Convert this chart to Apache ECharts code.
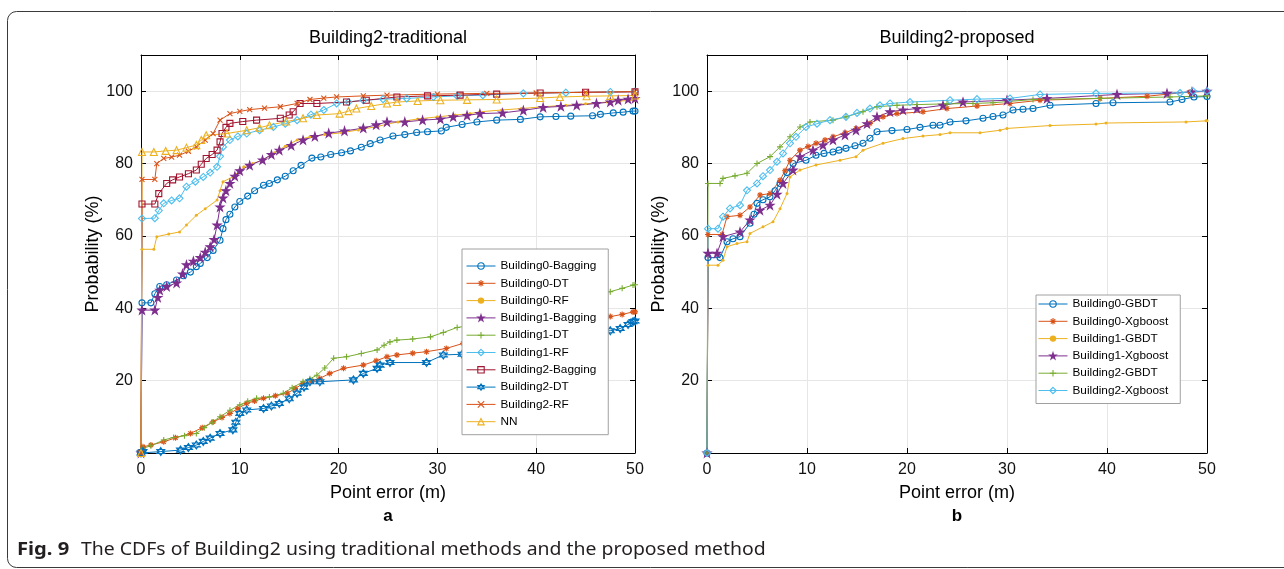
<!DOCTYPE html>
<html>
<head>
<meta charset="utf-8">
<script src="https://cdn.jsdelivr.net/npm/echarts@6/dist/echarts.min.js"></script>
<style>
  html, body { margin: 0; padding: 0; background: #fff; }
  #chart { width: 1284px; height: 569px; }
</style>
</head>
<body>
<div id="chart"></div>
<script>
// ---- Axis ticks ----
const xTicks = [0, 10, 20, 30, 40, 50];
const yTicks = [20, 40, 60, 80, 100];

// ---- (a) Building2-traditional : [point error (m), probability (%)] ----
const b0Bagging = [[0,0],[0.1,41.5],[1,41.5],[1.4,44],[1.9,46],[2.6,46.5],[3.6,47.8],[4.3,49],[5,50],[5.6,51.5],[6,52.4],[6.7,54],[7.3,56],[8,58.8],[8.3,62],[8.6,64.5],[9,66],[9.5,68],[10,69.5],[10.8,71],[11.5,72.5],[12.4,74],[13,74.5],[13.8,75.5],[14.6,76.5],[15.4,78],[16.2,79.5],[17.3,81.5],[18.2,81.8],[19.2,82.5],[20.3,83],[21.2,83.5],[22.3,84.5],[23.2,85.5],[24.2,86.5],[25.5,87.6],[26.7,88],[27.9,88.6],[29,88.8],[30.4,89],[30.9,90],[32.5,90.8],[34,91.5],[36,92],[38.4,92.2],[40.4,92.9],[42,93],[43.5,93.1],[45.7,93.2],[46.5,93.6],[47.8,94],[48.8,94.2],[49.8,94.5],[50,94.5]];
const b0DT = [[0,0],[0.2,1.7],[1,2.2],[2.3,3.1],[3.5,4.2],[5,5.4],[6.2,7],[7.3,8.6],[8.2,9.8],[9,10.9],[9.8,12.3],[10.7,13.7],[11.5,14.4],[12.4,15.1],[13.6,15.8],[14.8,16.5],[15.6,17.8],[16.4,19.2],[17.3,19.9],[18.1,20.6],[19.1,22],[20.5,23.4],[22.5,24.3],[23.8,25.5],[24.9,26.6],[25.9,27.1],[27.5,27.6],[28.9,28],[30.9,28.9],[32.6,30.3],[35,31.5],[38,33],[41,34.5],[44,35.8],[46.5,37],[47.5,37.7],[48.7,38.3],[49.8,39],[50,39]];
const b0RF = [[0,0],[0.1,56.3],[1.3,56.3],[1.6,59.8],[2.8,60.5],[3.9,61.1],[4.6,63],[5.6,65.7],[6.5,67.5],[7.7,69.9],[8,72.5],[8.3,75],[9.3,76.3],[10.4,79.1],[11.3,80],[12.4,81],[13.5,83],[14.6,84.8],[15.8,86.5],[17.1,87.4],[18.6,88],[20.3,88.5],[22,89.3],[24,90.3],[26,91.5],[28,92.3],[30,92.9],[31.8,93.4],[33.3,93.8],[34.3,94.3],[36.5,94.8],[38.5,95.2],[40.7,95.7],[43,96.1],[45,96.5],[47.2,97],[48.5,97.3],[50,97.5]];
const b1Bagging = [[0,0],[0.1,39.5],[1.4,39.5],[1.7,43],[1.9,45],[2.6,46],[3.6,47],[4.2,49.5],[4.6,52],[5.3,53],[6,54],[6.5,55.5],[7,57],[7.4,59],[7.7,63],[8,68],[8.3,70.5],[8.6,72.5],[9,74.5],[9.5,76.5],[10,78],[11,79.5],[12.3,81],[13.2,82.5],[14,83.7],[15.2,85],[16.4,86.5],[17.6,87.5],[19,88.4],[20.6,89],[22.5,89.8],[23.8,90.7],[24.9,91.5],[26.7,91.5],[28.5,92],[30.3,92.3],[31.6,92.9],[33,93.3],[34.3,93.8],[36.6,94],[38.7,94.7],[40.7,95.5],[42.5,95.8],[44.1,96.1],[46.1,96.6],[47.5,97],[48.3,97.5],[49.3,97.8],[50,98]];
const b1DT = [[0,0],[0.2,1.3],[1,2],[2.3,3.6],[3.3,4.3],[4.4,4.8],[5.6,5.4],[6.4,7],[7.2,8.5],[8,10],[9,11.8],[10,13.3],[10.8,14.3],[11.7,15.1],[13,15.5],[14.4,16.5],[15.3,18],[16.4,19.7],[17.1,20.5],[17.8,21.5],[18.6,23.5],[19.5,26.2],[20.8,26.6],[22.3,27.5],[23.9,28.5],[24.6,29.8],[25.2,30.7],[25.9,31.2],[27.5,31.5],[29.3,32.1],[30.6,33.3],[32,34.7],[33.5,35.3],[35,35.6],[37,37],[39.5,38.5],[42,40.5],[44.5,42.5],[46.5,44],[47.5,44.6],[48.7,45.5],[49.8,46.4],[50,46.5]];
const b1RF = [[0,0],[0.1,64.8],[1.4,64.9],[1.8,67],[2.3,69],[3.1,69.8],[3.9,70.4],[4.6,73.6],[5.5,75],[6.3,76.3],[7,77.5],[7.7,79.1],[8,82],[8.3,84.6],[9,86.5],[9.8,87.5],[10.7,88.3],[12,89.2],[13.4,90.1],[14.6,91],[15.8,92],[17.2,93.5],[18.5,94.8],[19.8,96.6],[21,97],[22.5,97.5],[24.5,97.8],[26.9,98],[29.6,98.4],[32,98.7],[34.6,98.9],[38.7,99.4],[43,99.6],[47.5,99.8],[50,99.9]];
const b2Bagging = [[0,0],[0.1,68.8],[1.4,68.8],[1.8,71.7],[2.6,74.5],[3.2,75.5],[3.9,76.3],[4.8,77.2],[5.6,78.2],[6.1,79.8],[6.6,81.4],[7.2,82.5],[7.7,83.7],[8,86],[8.2,88.3],[8.6,90],[9,91.1],[10.3,91.6],[11.7,92],[14.1,92.5],[15,93.4],[15.4,94.3],[16.1,96.6],[17.8,96.6],[20.8,97],[22.8,97.5],[25.9,98.4],[29,98.7],[32.3,98.9],[36,99.2],[40.4,99.5],[45,99.7],[50,99.8]];
const b2DT = [[0,0],[0.2,0.4],[2,0.4],[4,0.8],[4.8,1.5],[5.6,2.2],[6.3,3.2],[7,4.1],[8,5.4],[9.3,6.4],[9.6,8.5],[10,10.9],[10.7,11.9],[12.4,12.3],[13.2,13],[14,13.7],[15,15],[15.8,16.5],[16.5,18.2],[17.1,19.7],[18.1,19.7],[21.5,20.2],[22.5,22],[23.9,23.4],[24.2,24.3],[25.2,25],[28.9,25],[30.6,27.1],[32.5,27.3],[35,29],[38,30.5],[41,32],[44,33.2],[47.5,33.8],[48.5,34.4],[49.3,35.5],[49.8,36.3],[50,36.5]];
const b2RF = [[0,0],[0.1,75.6],[1.4,75.6],[1.6,80],[2.3,81.4],[3.1,81.8],[3.9,82.3],[4.8,83.4],[5.6,84.6],[6.5,86.5],[7.3,88.3],[8,92],[9,93.8],[10,94.4],[11,94.9],[12.5,95.3],[14.1,95.7],[15.8,96.6],[17.1,97.7],[18.5,98.1],[19.8,98.4],[22.5,98.7],[24.9,98.9],[30,99.2],[35,99.4],[40,99.5],[45,99.7],[50,99.9]];
const nn = [[0,0],[0.1,83.2],[1.3,83.2],[2.5,83.5],[3.6,83.7],[4.6,84.4],[5.6,85.1],[6.1,86.5],[6.6,87.8],[8.7,88.3],[10.7,89.2],[12,89.9],[13,90.6],[14.7,91.6],[16.4,92.5],[17.8,93.4],[20.1,93.8],[21,94.5],[21.8,95.2],[23.3,95.9],[24.9,96.6],[25.9,97],[28,97.3],[30.3,97.5],[33,97.6],[36,97.7],[40.4,98.1],[42.4,98.4],[45.1,98.6],[47.5,98.7],[50,98.8]];

// ---- (b) Building2-proposed ----
const b0GBDT = [[0,0],[0.1,54],[1.3,54],[2,58.4],[2.6,59.2],[3.3,59.8],[4.3,63.5],[4.7,66],[5,69],[5.6,70],[6.3,70.8],[6.8,72.5],[7.3,74.5],[8,77.5],[8.6,80],[9.9,80.9],[10.9,82.3],[11.7,82.8],[12.6,83.2],[13.2,83.7],[13.9,84.2],[14.8,84.9],[15.6,85.6],[16.3,87],[17,88.8],[18.5,89.1],[20,89.4],[21.3,90],[22.6,90.6],[23.3,90.6],[24.3,91.5],[25.9,91.8],[27.6,92.5],[28.6,93],[29.6,93.4],[30.6,94.8],[31.6,95],[32.6,95.2],[34.3,96.1],[38.9,96.6],[40.6,96.8],[46.3,97],[47.5,97.7],[48.7,98.4],[50,98.5]];
const b0Xgboost = [[0,0],[0.1,60.4],[1.5,60.4],[2,65.3],[3.3,65.7],[4.3,68],[5.3,71.3],[6.3,71.7],[7.3,75.4],[7.8,78],[8.3,80.9],[9.3,83.7],[10.1,84.7],[10.9,85.6],[11.8,86.5],[12.6,87.4],[13.8,88.5],[14.9,89.7],[16.3,91.1],[17.6,92.9],[19,93.8],[21.6,94.3],[24,95.2],[27,95.9],[30.3,96.6],[33.3,97.5],[39.3,98],[44,98.6],[48.3,99.8],[50,99.9]];
const b1GBDT = [[0,0],[0.1,51.9],[1.1,51.9],[1.6,53.3],[2,57],[3,57.9],[4,58.4],[4.3,60.7],[5.6,62.5],[6.6,63.9],[7.3,67.5],[8,71.7],[8.3,76.3],[9.3,78.2],[10.9,79.6],[13.3,80.9],[14.9,81.9],[15.6,83.7],[17.6,85.6],[19.6,86.9],[21.6,87.6],[23.3,88],[24.3,88.5],[27.3,88.5],[29.3,89.2],[30,89.7],[34.3,90.5],[38.9,90.9],[39.9,91.2],[47.9,91.5],[49.9,91.8],[50,91.8]];
const b1Xgboost = [[0,0],[0.1,55.2],[1,55.2],[1.6,59.8],[3.3,61.1],[4.3,64.4],[5.3,67.1],[6.3,68.5],[7,71.5],[7.6,74.5],[8.6,78.2],[9.3,81.9],[10.6,83.7],[11.6,85.1],[12.6,86.5],[13.8,87.9],[14.9,89.2],[16,91],[17,92.9],[18.3,94.3],[19.6,94.8],[21,95.2],[23.6,96.1],[25.6,97],[30,97.5],[34,98],[41,99.1],[46,99.4],[48.5,99.8],[50,100]];
const b2GBDT = [[0,0],[0.1,74.5],[1.3,74.5],[1.6,75.9],[2.8,76.6],[4,77.3],[5,80],[6.3,81.9],[7.3,84.6],[8.3,87.4],[9.3,90.1],[10.3,91.5],[12.6,92],[13.9,92.9],[15.6,94.3],[17,95.7],[19,96.1],[21,96.3],[24,96.5],[26.6,96.6],[28.6,96.8],[32.6,97.7],[39.3,98],[46.3,98.4],[50,98.7]];
const b2Xgboost = [[0,0],[0.1,62],[1.1,62],[1.6,65.3],[2.3,67.6],[3.3,68.5],[4,72.6],[5,74.5],[5.6,76.5],[6.3,78.2],[7,80.5],[7.6,82.8],[8.3,85.6],[8.9,87.4],[9.9,90.1],[11,91],[12.3,92],[13.9,92.9],[15,94],[16.3,95.2],[17.3,96.1],[18.3,96.6],[20.3,97],[24.3,97.5],[27,97.8],[30.3,98],[33.3,99.1],[38.9,99.4],[47.3,99.5],[48.6,100],[50,100]];

// ---- Marker shapes ----
const SYM = {
  circle: 'circle',
  diamond: 'diamond',
  square: 'rect',
  triangle: 'triangle',
  dot: 'circle',
  asterisk: 'path://M0,5L10,5M5,0L5,10M1.5,1.5L8.5,8.5M8.5,1.5L1.5,8.5',
  plus: 'path://M0,5L10,5M5,0L5,10',
  cross: 'path://M0,0L10,10M10,0L0,10',
  pentagram: 'path://M50,0L61.2,34.5L97.6,34.5L68.2,55.9L79.4,90.5L50,69.1L20.6,90.5L31.8,55.9L2.4,34.5L38.8,34.5Z',
  hexagram: 'path://M50,0L93.3,75L6.7,75ZM50,100L6.7,25L93.3,25Z'
};
const HOLLOW = ['circle', 'diamond', 'square', 'triangle', 'hexagram', 'asterisk', 'plus', 'cross'];

const C = {
  blue: '#0072BD', orange: '#D95319', yellow: '#EDB120', purple: '#7E2F8E',
  green: '#77AC30', cyan: '#4DBEEE', red: '#A2142F'
};

function markerStyle(color, marker) {
  return {
    color: HOLLOW.includes(marker) ? 'rgba(0,0,0,0)' : color,
    borderColor: color,
    borderWidth: marker === 'dot' ? 0 : 1.1
  };
}

function line(name, data, color, marker, size, axis) {
  return {
    type: 'line', name: name, data: data,
    xAxisIndex: axis, yAxisIndex: axis,
    symbol: SYM[marker],
    symbolSize: size,
    showAllSymbol: true,
    lineStyle: { color: color, width: 1 },
    itemStyle: markerStyle(color, marker),
    emphasis: { disabled: true },
    animation: false,
    _marker: marker, _color: color
  };
}

const leftSeries = [
  line('Building0-Bagging', b0Bagging, C.blue, 'circle', 6, 0),
  line('Building0-DT', b0DT, C.orange, 'asterisk', 6, 0),
  line('Building0-RF', b0RF, C.yellow, 'dot', 3, 0),
  line('Building1-Bagging', b1Bagging, C.purple, 'pentagram', 8, 0),
  line('Building1-DT', b1DT, C.green, 'plus', 6, 0),
  line('Building1-RF', b1RF, C.cyan, 'diamond', 7, 0),
  line('Building2-Bagging', b2Bagging, C.red, 'square', 6, 0),
  line('Building2-DT', b2DT, C.blue, 'hexagram', 8, 0),
  line('Building2-RF', b2RF, C.orange, 'cross', 5, 0),
  line('NN', nn, C.yellow, 'triangle', 7, 0)
];
const rightSeries = [
  line('Building0-GBDT', b0GBDT, C.blue, 'circle', 6, 2),
  line('Building0-Xgboost', b0Xgboost, C.orange, 'asterisk', 6, 2),
  line('Building1-GBDT', b1GBDT, C.yellow, 'dot', 3, 2),
  line('Building1-Xgboost', b1Xgboost, C.purple, 'pentagram', 8, 2),
  line('Building2-GBDT', b2GBDT, C.green, 'plus', 6, 2),
  line('Building2-Xgboost', b2Xgboost, C.cyan, 'diamond', 7, 2)
];

// legend entries keep the default line-plus-marker icon, with hollow markers
function legendData(list) {
  return list.map(s => ({
    name: s.name,
    itemStyle: markerStyle(s._color, s._marker),
    lineStyle: { color: s._color, width: 1 }
  }));
}

const FONT = 'Liberation Sans, Arial, Helvetica, sans-serif';
const GRID_COLOR = '#e6e6e6';

function xAxisPair(gridIndex) {
  return [
    {
      type: 'value', gridIndex: gridIndex, min: xTicks[0], max: xTicks[xTicks.length - 1], interval: 10,
      position: 'bottom',
      name: 'Point error (m)', nameLocation: 'middle', nameGap: 31,
      nameTextStyle: { fontFamily: FONT, fontSize: 18, color: '#000' },
      axisLine: { show: true, onZero: false, lineStyle: { color: '#000', width: 1 } },
      axisTick: { show: true, inside: true, length: 5, lineStyle: { color: '#000' } },
      axisLabel: { show: true, margin: 9, fontFamily: FONT, fontSize: 16, color: '#111',
        formatter: v => (xTicks.includes(v) ? String(v) : '') },
      splitLine: { show: true, lineStyle: { color: GRID_COLOR, width: 1 } }
    },
    {
      type: 'value', gridIndex: gridIndex, min: xTicks[0], max: xTicks[xTicks.length - 1], interval: 10,
      position: 'top',
      axisLine: { show: true, onZero: false, lineStyle: { color: '#000', width: 1 } },
      axisTick: { show: true, inside: true, length: 5, lineStyle: { color: '#000' } },
      axisLabel: { show: false },
      splitLine: { show: false }
    }
  ];
}
function yAxisPair(gridIndex) {
  return [
    {
      type: 'value', gridIndex: gridIndex, min: 0, max: 110, interval: 20,
      position: 'left',
      name: 'Probability (%)', nameLocation: 'middle', nameGap: 39, nameRotate: 90,
      nameTextStyle: { fontFamily: FONT, fontSize: 18, color: '#000' },
      axisLine: { show: true, onZero: false, lineStyle: { color: '#000', width: 1 } },
      axisTick: { show: true, inside: true, length: 5, lineStyle: { color: '#000' } },
      axisLabel: { show: true, margin: 8, fontFamily: FONT, fontSize: 16, color: '#111',
        formatter: v => (yTicks.includes(v) ? String(v) : '') },
      splitLine: { show: true, lineStyle: { color: GRID_COLOR, width: 1 } }
    },
    {
      type: 'value', gridIndex: gridIndex, min: 0, max: 110, interval: 20,
      position: 'right',
      axisLine: { show: true, onZero: false, lineStyle: { color: '#000', width: 1 } },
      axisTick: { show: true, inside: true, length: 5, lineStyle: { color: '#000' } },
      axisLabel: { show: false },
      splitLine: { show: false }
    }
  ];
}

const legendCommon = {
  orient: 'vertical',
  backgroundColor: '#fff',
  borderColor: '#a0a0a0',
  borderWidth: 1,
  itemWidth: 29,
  itemHeight: 8,
  itemGap: 3.3,
  selectedMode: false,
  textStyle: { fontFamily: FONT, fontSize: 11.8, color: '#000', lineHeight: 14 }
};

const chart = echarts.init(document.getElementById('chart'), null, { renderer: 'canvas' });

chart.setOption({
  animation: false,
  backgroundColor: '#fff',
  grid: [
    { left: 141, top: 55, width: 494, height: 398 },
    { left: 707, top: 55, width: 500, height: 398 }
  ],
  xAxis: [...xAxisPair(0), ...xAxisPair(1)],
  yAxis: [...yAxisPair(0), ...yAxisPair(1)],
  legend: [
    Object.assign({}, legendCommon, {
      left: 462, top: 249, padding: [10, 12, 6, 4],
      data: legendData(leftSeries)
    }),
    Object.assign({}, legendCommon, {
      left: 1036, top: 295, padding: [2, 12, 6, 2],
      data: legendData(rightSeries)
    })
  ],
  series: [...leftSeries, ...rightSeries],
  graphic: [
    // outer figure frame with rounded corners
    { type: 'rect', z: -10, silent: true,
      shape: { x: 7.5, y: 11.5, width: 1300, height: 556, r: 9 },
      style: { fill: 'none', stroke: '#3a3a3a', lineWidth: 1 } },
    { type: 'text', x: 388, y: 38, silent: true,
      style: { text: 'Building2-traditional', font: '18px ' + FONT, fill: '#000', align: 'center', verticalAlign: 'middle' } },
    { type: 'text', x: 957, y: 38, silent: true,
      style: { text: 'Building2-proposed', font: '18px ' + FONT, fill: '#000', align: 'center', verticalAlign: 'middle' } },
    { type: 'text', x: 388, y: 516, silent: true,
      style: { text: 'a', font: 'bold 17px ' + FONT, fill: '#000', align: 'center', verticalAlign: 'middle' } },
    { type: 'text', x: 957, y: 516, silent: true,
      style: { text: 'b', font: 'bold 17px ' + FONT, fill: '#000', align: 'center', verticalAlign: 'middle' } },
    { type: 'text', x: 17, y: 550, scaleX: 1.12, silent: true,
      style: { text: 'Fig. 9', font: 'bold 18px "Noto Sans", sans-serif', fill: '#231f20', align: 'left', verticalAlign: 'middle' } },
    { type: 'text', x: 81, y: 550, scaleX: 1.05, silent: true,
      style: { text: 'The CDFs of Building2 using traditional methods and the proposed method', font: '18.5px "Noto Sans", sans-serif', fill: '#231f20', align: 'left', verticalAlign: 'middle' } }
  ]
});
</script>
</body>
</html>
